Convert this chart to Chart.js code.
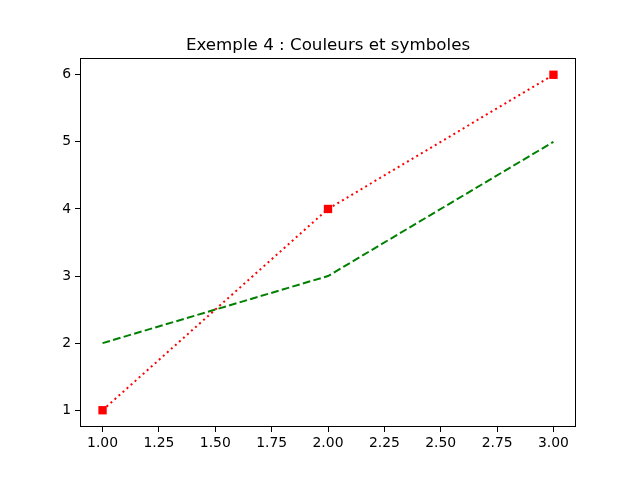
<!DOCTYPE html>
<html>
<head>
<meta charset="utf-8">
<script src="https://cdn.jsdelivr.net/npm/chart.js@4"></script>
<style>
  html, body { margin: 0; padding: 0; background: #fff; }
  #wrap { width: 640px; height: 480px; }
</style>
</head>
<body>
<div id="wrap"><canvas id="myChart" width="640" height="480"></canvas></div>
<script>
// data
var xValues = [1, 2, 3];
var redValues = [1, 4, 6];
var greenValues = [2, 3, 5];
var xTicks = [1.0, 1.25, 1.5, 1.75, 2.0, 2.25, 2.5, 2.75, 3.0];
var yTicks = [1, 2, 3, 4, 5, 6];
var title = "Exemple 4 : Couleurs et symboles";

function toPoints(ys) {
    return xValues.map(function (x, i) { return { x: x, y: ys[i] }; });
}

var font = { family: "DejaVu Sans", size: 13.9 };

// frame around the axes + the title, matplotlib style
var framePlugin = {
    id: 'frame',
    afterDatasetsDraw: function (chart) {
        var a = chart.chartArea, c = chart.ctx;
        c.save();
        c.strokeStyle = '#000';
        c.lineWidth = 1;
        c.strokeRect(a.left + 0.5, a.top + 0.5, a.right - a.left - 1, a.bottom - a.top - 1);
        c.fillStyle = '#000';
        c.font = '16.7px "DejaVu Sans"';
        c.textAlign = 'center';
        c.textBaseline = 'alphabetic';
        c.fillText(title, (a.left + a.right) / 2, a.top - 8);
        c.restore();
    }
};

var ctx = document.getElementById("myChart");
var myChart = new Chart(ctx, {
    type: 'line',
    data: {
        datasets: [{
            data: toPoints(redValues),
            borderColor: 'rgb(255, 0, 0)',
            backgroundColor: 'rgb(255, 0, 0)',
            borderWidth: 2,
            borderDash: [2, 3.4],
            pointStyle: 'rect',
            pointRadius: 5.9,
            pointBorderWidth: 0,
            fill: false,
            tension: 0
        }, {
            data: toPoints(greenValues),
            borderColor: 'rgb(0, 128, 0)',
            borderWidth: 2,
            borderDash: [7.7, 3.3],
            pointRadius: 0,
            fill: false,
            tension: 0
        }]
    },
    options: {
        responsive: false,
        animation: false,
        layout: { padding: { left: 0, right: 64, top: 58, bottom: 0 } },
        plugins: {
            legend: { display: false },
            title: { display: false },
            tooltip: { enabled: false }
        },
        scales: {
            x: {
                type: 'linear',
                min: 0.9,
                max: 3.1,
                grid: { drawOnChartArea: false, drawTicks: true, tickLength: 5, color: '#000' },
                border: { display: false },
                ticks: {
                    color: '#000',
                    font: font,
                    padding: 3,
                    maxRotation: 0,
                    autoSkip: false,
                    callback: function (v) { return Number(v).toFixed(2); }
                },
                afterBuildTicks: function (s) {
                    s.ticks = xTicks.map(function (v) { return { value: v }; });
                },
                afterFit: function (s) { s.height = 53; }
            },
            y: {
                type: 'linear',
                min: 0.75,
                max: 6.25,
                grid: { drawOnChartArea: false, drawTicks: true, tickLength: 5, color: '#000' },
                border: { display: false },
                ticks: {
                    color: '#000',
                    font: font,
                    padding: 4,
                    autoSkip: false,
                    callback: function (v) { return String(v); }
                },
                afterBuildTicks: function (s) {
                    s.ticks = yTicks.map(function (v) { return { value: v }; });
                },
                afterFit: function (s) { s.width = 80; }
            }
        }
    },
    plugins: [framePlugin]
});
</script>
</body>
</html>
